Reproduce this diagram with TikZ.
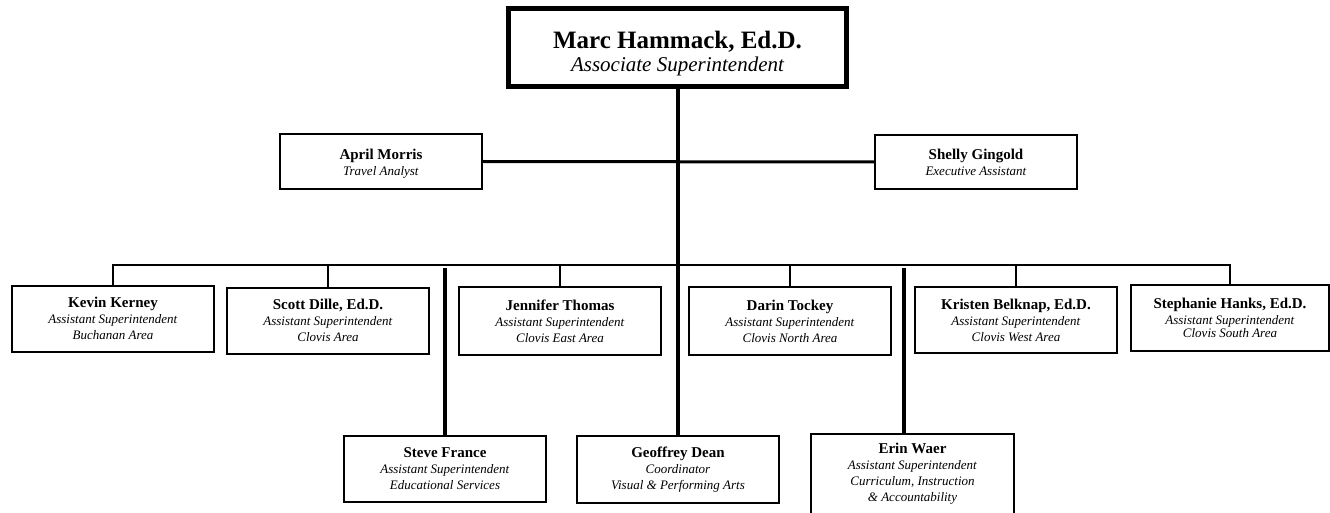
\documentclass[tikz,border=0pt]{standalone}
\usepackage{fontspec}
\setmainfont{Liberation Serif}
\usepackage{tikz}
\usetikzlibrary{positioning}

\newcommand{\nm}[1]{{\fontsize{15}{17}\selectfont\bfseries #1}}
\newcommand{\ttl}[1]{\textit{#1}}

\tikzset{
  box/.style={draw, line width=2pt, minimum width=202pt, minimum height=66pt,
    align=center, inner sep=1pt, font=\fontsize{13}{16}\selectfont},
  bigbox/.style={draw, line width=4.5pt, minimum width=338pt, minimum height=78pt,
    align=center, inner sep=1pt, font=\fontsize{21}{23}\selectfont},
  link/.style={line width=2pt},
  spine/.style={line width=3.5pt}
}

\begin{document}
\begin{tikzpicture}[x=1pt,y=-1pt]
  \useasboundingbox (0,0) rectangle (1330,513);

  \node[bigbox] (mh) at (677.5,47.5) {\rule{0pt}{30pt}{\fontsize{25}{23}\selectfont\bfseries Marc Hammack, Ed.D.}\\
    \itshape Associate Superintendent};

  \node[box, minimum height=55pt] (am) at (381,161.5) {\rule{0pt}{15pt}\nm{April Morris}\\\ttl{Travel Analyst}};
  \node[box, minimum height=54pt] (sg) at (976,162) {\nm{Shelly Gingold}\\\ttl{Executive Assistant}};

  \node[box] (kk) at (113,318.5) {\nm{Kevin Kerney}\\\ttl{Assistant Superintendent}\\\ttl{Buchanan Area}};
  \node[box] (sd) at (328,320.5) {\nm{Scott Dille, Ed.D.}\\\ttl{Assistant Superintendent}\\\ttl{Clovis Area}};
  \node[box, minimum height=68pt] (jt) at (560,321) {\nm{Jennifer Thomas}\\\ttl{Assistant Superintendent}\\\ttl{Clovis East Area}};
  \node[box, minimum height=68pt] (dt) at (790,321) {\nm{Darin Tockey}\\\ttl{Assistant Superintendent}\\\ttl{Clovis North Area}};
  \node[box] (kb) at (1016,320) {\nm{Kristen Belknap, Ed.D.}\\\ttl{Assistant Superintendent}\\\ttl{Clovis West Area}};
  \node[box, minimum width=198pt] (sh) at (1230,318) {\nm{Stephanie Hanks, Ed.D.}\\\ttl{Assistant Superintendent}\\[-3pt]\ttl{Clovis South Area}};

  \node[box] (sf) at (445,469) {\nm{Steve France}\\\ttl{Assistant Superintendent}\\\ttl{Educational Services}};
  \node[box, minimum height=67pt] (gd) at (678,469.5) {\nm{Geoffrey Dean}\\\ttl{Coordinator}\\\ttl{Visual \& Performing Arts}};
  \node[box, minimum width=203pt, minimum height=80pt] (ew) at (912.5,474) {\nm{Erin Waer}\\\ttl{Assistant Superintendent}\\\ttl{Curriculum, Instruction}\\\ttl{\& Accountability}};

  \coordinate (bus) at (675,265);

  % staff line
  \draw[line width=3pt] (am.east) -- (sg.west);

  % area superintendents
  \draw[link] (kk.north) |- (bus);
  \draw[link] (sh.north) |- (bus);
  \draw[link] (sd.north) -- (sd.north |- bus);
  \draw[link] (jt.north) -- (jt.north |- bus);
  \draw[link] (dt.north) -- (dt.north |- bus);
  \draw[link] (kb.north) -- (kb.north |- bus);

  % long drops
  \draw[spine] (mh.south -| gd.north) -- (gd.north);
  \draw[spine] (sf.north) -- ([yshift=-3pt]sf.north |- bus);
  \draw[spine] (ew.north -| 904,0) -- ([yshift=-3pt]904,265);
\end{tikzpicture}
\end{document}
